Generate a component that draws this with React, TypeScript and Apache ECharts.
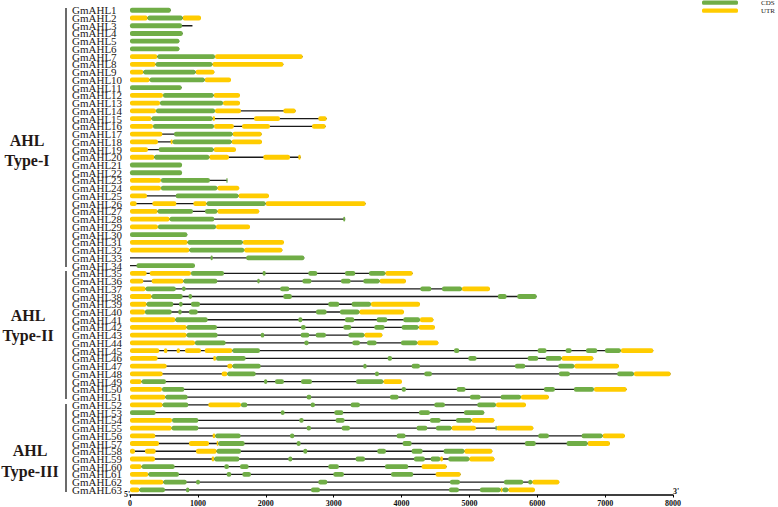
import React, { useEffect, useRef } from "react";
import * as echarts from "echarts";

const geneNames: string[] = Array.from({ length: 63 }, (_, i) => `GmAHL${i + 1}`);

const geneLengths: number[] = [
  600, 1046, 920, 776, 727, 727, 2543, 2259, 1242, 1488,
  761, 1620, 1620, 2440, 2897, 2882, 1939, 1944, 1561, 2514,
  766, 766, 1432, 1608, 2047, 3471, 1903, 3170, 1768, 844,
  2268, 2244, 2568, 957, 4164, 4065, 5303, 5990, 4272, 4036,
  4468, 4493, 3717, 4542, 7709, 6825, 7203, 7964, 4007, 7316,
  6170, 5833, 5219, 5367, 5941, 7291, 7070, 5337, 5367, 4665,
  4871, 6324, 5966,
];

const utrSegments: number[][] = [
  [], [0, 260, 775, 1046], [], [], [], [],
  [0, 402, 1252, 2543], [0, 378, 1213, 2259], [0, 196, 967, 1242], [0, 290, 1100, 1488],
  [], [0, 486, 1232, 1620], [0, 442, 1370, 1620], [0, 383, 1252, 1635, 2259, 2440],
  [0, 319, 1218, 1252, 1827, 2210, 2774, 2897], [0, 339, 1237, 1530, 1650, 2062, 2681, 2882],
  [0, 476, 1512, 1939], [0, 412, 599, 628, 1497, 1944], [0, 265, 1232, 1561],
  [0, 358, 1168, 1458, 1964, 2357, 2480, 2514],
  [], [], [0, 456], [0, 456, 1286, 1608], [0, 250, 1598, 2047],
  [0, 98, 329, 683, 933, 1129, 1998, 3471], [0, 407, 1286, 1903], [0, 584], [0, 412, 1267, 1768], [],
  [0, 849, 1662, 2268], [0, 874, 1682, 2244], [], [],
  [0, 245, 290, 898, 3761, 4164], [0, 196, 319, 786, 3678, 4065], [0, 230, 4890, 5303], [0, 319],
  [0, 245, 3550, 4272], [0, 221, 3378, 4036], [0, 668, 4272, 4468], [0, 835, 4252, 4493],
  [0, 835, 3452, 3717], [0, 957, 4232, 4542],
  [0, 432, 500, 550, 687, 736, 810, 1046, 1100, 1507, 7232, 7709],
  [0, 407, 1227, 1267, 6358, 6825], [0, 540, 1434, 1510, 6545, 7203], [0, 481, 1350, 1434, 7424, 7964],
  [0, 172, 3732, 4007], [0, 471, 6835, 7316], [0, 520, 5760, 6170], [0, 481, 1154, 1635, 5391, 5833],
  [], [0, 619, 5033, 5367], [0, 614, 4738, 5097, 5400, 5941], [0, 373, 1218, 1257, 6962, 7291],
  [0, 427, 869, 1164, 1277, 1301, 6741, 7070], [0, 74, 221, 378, 972, 1277, 4925, 5337],
  [0, 368, 1203, 1242, 4570, 4610, 4998, 5367], [0, 172, 4296, 4665], [0, 270, 4502, 4871],
  [0, 491, 5926, 6324], [0, 138, 5460, 5490, 5573, 5966],
];

const cdsSegments: number[][] = [
  [0, 600], [260, 775], [0, 766], [0, 776], [0, 727], [0, 727],
  [402, 1252], [378, 1213], [196, 967], [290, 1100],
  [0, 761], [486, 1232], [442, 1370], [383, 1252], [319, 1218], [339, 1237],
  [648, 1512], [628, 1497], [422, 1232], [358, 1168],
  [0, 766], [0, 766], [456, 1178, 1420, 1432], [456, 1286], [673, 1598],
  [1129, 1998], [407, 928, 1105, 1286], [584, 1242, 3142, 3170], [412, 1267], [0, 844],
  [849, 1662], [874, 1682], [1188, 1218, 1712, 2568], [95, 957],
  [898, 1385, 1954, 1998, 2627, 2759, 3167, 3319, 3520, 3761],
  [786, 1286, 1876, 1910, 2540, 2673, 3108, 3250, 3437, 3678],
  [230, 675, 766, 820, 2212, 2347, 4277, 4439, 4596, 4890],
  [319, 776, 862, 915, 2258, 2384, 5420, 5548, 5705, 5990],
  [245, 638, 722, 776, 898, 1031, 2921, 3083, 3265, 3550],
  [221, 614, 712, 761, 869, 997, 2740, 2897, 3093, 3378],
  [668, 1144, 2480, 2540, 3167, 3304, 3634, 3791, 4026, 4272],
  [835, 1281, 2519, 2588, 3143, 3260, 3599, 3751, 4002, 4252],
  [835, 1291, 1925, 1979, 2514, 2642, 2735, 2887, 3216, 3452],
  [957, 1409, 2568, 2632, 3275, 3388, 3491, 3633, 3992, 4232],
  [1507, 1915, 4773, 4851, 6005, 6137, 6417, 6506, 6717, 6884, 6997, 7232],
  [1267, 1704, 3795, 3860, 4984, 5106, 5858, 6015, 6123, 6358],
  [1510, 1925, 3437, 3486, 4149, 4272, 5671, 5823, 6309, 6545],
  [1434, 1851, 3609, 3668, 4335, 4448, 6319, 6481, 7178, 7424],
  [172, 530, 1974, 2023, 2136, 2268, 2519, 2681, 3329, 3732],
  [471, 800, 4002, 4066, 4812, 4944, 6098, 6260, 6540, 6835],
  [520, 849, 2602, 2671, 3830, 3957, 5008, 5165, 5460, 5760],
  [481, 859, 1635, 1728, 2661, 2725, 3250, 3388, 4483, 4640, 5116, 5391],
  [0, 378, 2220, 2278, 3010, 3142, 4257, 4419, 4920, 5219],
  [619, 1007, 2494, 2558, 3029, 3162, 4419, 4576, 4802, 5033],
  [614, 1007, 2602, 2666, 3118, 3241, 4222, 4380, 4507, 4738, 5386, 5400],
  [1257, 1630, 2357, 2421, 3928, 4060, 6015, 6172, 6653, 6962],
  [1301, 1689, 2455, 2514, 4016, 4149, 5818, 5978, 6432, 6741],
  [1277, 1635, 2553, 2612, 3643, 3771, 4149, 4311, 4620, 4925],
  [1242, 1611, 2332, 2391, 3324, 3462, 4183, 4345, 4429, 4570, 4689, 4998],
  [172, 658, 1389, 1458, 1620, 1748, 2921, 3078, 3756, 4100],
  [270, 722, 1424, 1492, 1655, 1782, 2995, 3152, 3845, 4173],
  [491, 835, 972, 1031, 2774, 2907, 4714, 4861, 5509, 5794, 5867, 5926],
  [138, 515, 825, 874, 2666, 2799, 4699, 4846, 5155, 5460, 5490, 5573],
];

const groupLabels = [
  { lines: ["AHL", "Type-I"], x: 27, y: [140, 160], bracket: [8, 267] },
  { lines: ["AHL", "Type-II"], x: 28, y: [315, 335], bracket: [271, 399] },
  { lines: ["AHL", "Type-III"], x: 30, y: [450, 471], bracket: [404, 492] },
];

const legendItems = [
  { name: "CDS", color: "#70AD47" },
  { name: "UTR", color: "#FFCC00" },
];

const GREEN = "#70AD47";
const YELLOW = "#FFCC00";
const SERIF = "'Liberation Serif', 'Times New Roman', serif";

export default function App() {
  const ref = useRef<HTMLDivElement>(null);

  useEffect(() => {
    if (!ref.current) return;
    const chart = echarts.init(ref.current, null, { renderer: "svg" });

    const toItems = (segs: number[][]) => {
      const out: number[][] = [];
      segs.forEach((arr, i) => {
        for (let k = 0; k < arr.length; k += 2) out.push([i, arr[k], arr[k + 1]]);
      });
      return out;
    };
    const backbone = geneLengths.map((len, i) => [i, 0, len]);
    const barH = 4.8;

    const rectRender = (color: string) => (params: any, api: any) => {
      const row = api.value(0);
      const a = api.coord([api.value(1), row]);
      const b = api.coord([api.value(2), row]);
      const w = Math.max(b[0] - a[0], 1.2);
      return {
        type: "rect",
        shape: { x: a[0], y: a[1] - barH / 2, width: w, height: barH, r: Math.min(2, w / 2) },
        style: { fill: color },
      };
    };

    const graphics: any[] = [];
    groupLabels.forEach((g) => {
      graphics.push({
        type: "line",
        shape: { x1: 66, y1: g.bracket[0], x2: 66, y2: g.bracket[1] },
        style: { stroke: "#3a3a3a", lineWidth: 1.5 },
      });
      g.lines.forEach((t, j) => {
        graphics.push({
          type: "text",
          x: g.x,
          y: g.y[j],
          style: {
            text: t,
            fill: "#231815",
            font: `bold 16px ${SERIF}`,
            align: "center",
            verticalAlign: "middle",
          },
        });
      });
    });
    legendItems.forEach((l, i) => {
      graphics.push({
        type: "rect",
        shape: { x: 702, y: 0.4 + i * 8, width: 36, height: 4.4, r: 1.5 },
        style: { fill: l.color },
      });
      graphics.push({
        type: "text",
        x: 761,
        y: 2.8 + i * 8,
        style: { text: l.name, fill: "#231815", font: `7px ${SERIF}`, align: "left", verticalAlign: "middle" },
      });
    });
    graphics.push({
      type: "text",
      x: 127,
      y: 494,
      style: { text: "5'", fill: "#111", font: `bold 8px ${SERIF}`, align: "center", verticalAlign: "middle" },
    });
    graphics.push({
      type: "text",
      x: 676,
      y: 491,
      style: { text: "3'", fill: "#111", font: `bold 8px ${SERIF}`, align: "center", verticalAlign: "middle" },
    });

    chart.setOption({
      animation: false,
      grid: { left: 130, right: 105, top: 6.4, bottom: 13.2 },
      xAxis: {
        type: "value",
        min: 0,
        max: 8000,
        interval: 1000,
        offset: 1.2,
        axisLine: { show: true, lineStyle: { color: "#000", width: 1.5 } },
        axisTick: { show: true, length: 2.5, lineStyle: { color: "#000", width: 1 } },
        axisLabel: {
          fontFamily: SERIF,
          fontWeight: "bold",
          fontSize: 8,
          color: "#111",
          margin: 4,
          formatter: (v: number) => String(v),
        },
        splitLine: { show: false },
      },
      yAxis: {
        type: "category",
        inverse: true,
        data: geneNames,
        axisLine: { show: false },
        axisTick: { show: false },
        axisLabel: {
          interval: 0,
          align: "left",
          margin: 58,
          fontFamily: SERIF,
          fontSize: 11,
          lineHeight: 7.6,
          color: "#231815",
        },
        splitLine: { show: false },
      },
      graphic: graphics,
      series: [
        {
          type: "custom",
          name: "intron",
          data: backbone,
          encode: { x: [1, 2], y: 0 },
          clip: false,
          renderItem: (params: any, api: any) => {
            const row = api.value(0);
            const a = api.coord([api.value(1), row]);
            const b = api.coord([api.value(2), row]);
            return {
              type: "line",
              shape: { x1: a[0], y1: a[1], x2: b[0], y2: b[1] },
              style: { stroke: "#1a1a1a", lineWidth: 1.3 },
            };
          },
        },
        {
          type: "custom",
          name: "UTR",
          data: toItems(utrSegments),
          encode: { x: [1, 2], y: 0 },
          clip: false,
          renderItem: rectRender(YELLOW),
        },
        {
          type: "custom",
          name: "CDS",
          data: toItems(cdsSegments),
          encode: { x: [1, 2], y: 0 },
          clip: false,
          renderItem: rectRender(GREEN),
        },
      ],
    });

    return () => chart.dispose();
  }, []);

  return (
    <div
      ref={ref}
      style={{ position: "fixed", left: 0, top: 0, width: 778, height: 507, background: "#fff" }}
    />
  );
}
